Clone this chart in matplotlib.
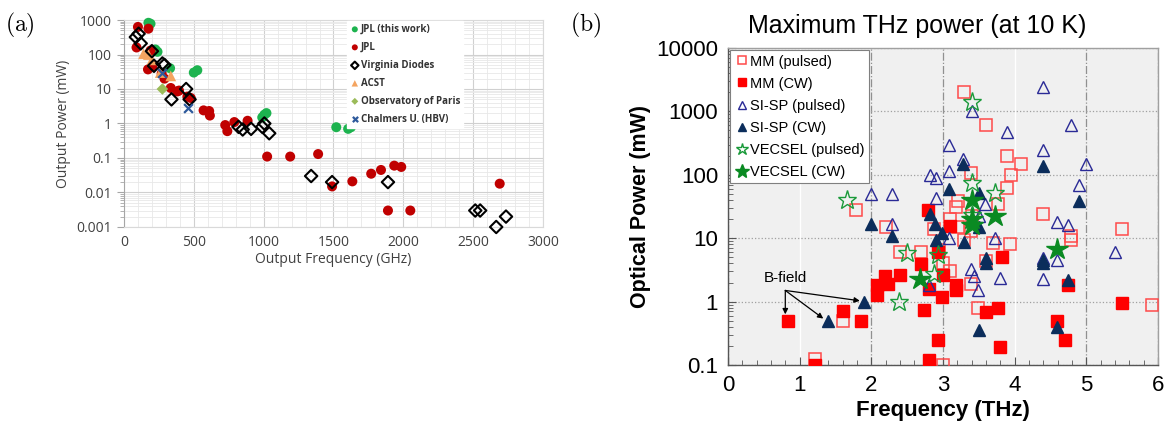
import matplotlib
matplotlib.use("Agg")
import matplotlib.pyplot as plt
from matplotlib.ticker import LogLocator, FixedLocator, NullFormatter, FuncFormatter

# ---------------- panel (a) data: output frequency (GHz) / power (mW)
jpl_this_f = [175, 190, 225, 240, 330, 500, 525, 990, 1005, 1020, 1520, 1605, 1625]
jpl_this_p = [830, 780, 140, 120, 40, 30, 35, 1.5, 1.8, 2.0, 0.78, 0.7, 0.78]

jpl_f = [100, 175, 90, 172, 203, 190, 335, 382, 394, 270, 290, 454, 478, 570, 610, 615,
         725, 740, 790, 885, 1025, 1190, 1390, 1490, 1635, 1770, 1840, 1935, 1985,
         1890, 2050, 2690]
jpl_p = [630, 560, 160, 37, 45, 130, 10.7, 8.5, 9, 28, 20, 6, 5.5, 2.4, 2.3, 1.7,
         0.9, 0.6, 1.1, 1.2, 0.11, 0.11, 0.13, 0.015, 0.021, 0.035, 0.045, 0.06, 0.055,
         0.003, 0.003, 0.018]

vdi_f = [85, 105, 120, 200, 215, 275, 290, 340, 445, 470, 820, 850, 910, 990, 1005, 1040,
         1340, 1490, 1890, 2515, 2550, 2665, 2735]
vdi_p = [320, 400, 210, 125, 47, 55, 50, 5, 10, 5, 0.8, 0.67, 0.7, 0.8, 1.0, 0.52,
         0.03, 0.02, 0.02, 0.003, 0.003, 0.001, 0.002]

acst_f = [140, 175, 200, 260, 335]
acst_p = [105, 100, 70, 30, 24]

paris_f = [275]
paris_p = [10]

chalmers_f = [275, 460]
chalmers_p = [30, 2.8]

# ---------------- panel (b) data: frequency (THz) / optical power (mW)
mm_pulsed_f = [1.21, 1.6, 1.79, 3.3, 3.6, 3.39, 3.21, 3.18, 3.77, 3.9, 4.09, 3.95, 3.9,
               4.39, 2.2, 2.88, 3.21, 3.1, 3.41, 3.39, 3.29, 3.7, 3.94, 2.4, 2.7, 2.95,
               3.0, 3.1, 3.39, 3.6, 3.49, 3.0, 4.79, 4.79, 5.5, 5.92]
mm_pulsed_p = [0.125, 0.5, 28, 2000, 600, 105, 38, 31, 35, 200, 148, 100, 63,
               24, 15, 14, 15, 20, 22, 13, 9.5, 8.3, 8, 6, 6, 6.5,
               4, 3, 1.9, 4.3, 0.78, 0.1, 11, 9.5, 14, 0.9]

mm_cw_f = [0.84, 1.21, 1.6, 1.86, 2.08, 2.08, 2.19, 2.24, 2.4, 2.79, 3.1, 2.7, 2.93,
           3.0, 2.8, 2.99, 3.18, 3.18, 2.73, 2.93, 2.8, 3.6, 3.77, 3.79, 3.82, 4.74,
           4.59, 4.7, 5.5]
mm_cw_p = [0.5, 0.1, 0.7, 0.5, 1.8, 1.25, 2.5, 1.9, 2.6, 28, 15.5, 3.9, 6,
           2.6, 1.6, 1.2, 1.8, 1.5, 0.74, 0.25, 0.12, 0.69, 0.78, 0.19, 5.1, 1.8,
           0.5, 0.25, 0.94]

sisp_pulsed_f = [3.4, 4.39, 3.09, 3.28, 2.82, 2.9, 3.09, 1.99, 2.29, 2.9, 3.59, 4.79, 3.9,
                 4.39, 4.99, 4.9, 4.59, 4.74, 2.29, 3.09, 3.5, 3.73, 2.8, 3.39, 3.43,
                 3.49, 3.79, 4.39, 4.59, 5.4, 4.39]
sisp_pulsed_p = [1000, 2400, 290, 180, 100, 90, 115, 50, 50, 43, 35, 600, 470,
                 245, 150, 70, 18, 16, 17, 10, 22, 10, 1.8, 3.3, 2.5,
                 1.5, 2.4, 2.3, 4.5, 6, 4.8]

sisp_cw_f = [1.39, 1.9, 1.99, 2.29, 2.82, 3.09, 3.28, 3.5, 4.39, 4.9, 2.89, 2.99, 2.9,
             3.29, 3.5, 3.6, 3.6, 3.5, 4.39, 4.39, 4.74, 4.59]
sisp_cw_p = [0.5, 1.0, 17, 11, 24, 60, 150, 52, 140, 39, 17, 12, 9.3,
             8.8, 15, 4.9, 4.0, 0.36, 4.5, 4.0, 2.2, 0.4]

vecsel_pulsed_f = [1.66, 3.4, 3.4, 3.4, 3.73, 2.5, 2.93, 2.87, 2.39]
vecsel_pulsed_p = [40, 1400, 75, 23, 51, 5.8, 5.4, 2.7, 1.0]

vecsel_cw_f = [3.4, 3.4, 3.4, 3.72, 4.59, 2.68]
vecsel_cw_p = [40, 20, 16, 22, 6.7, 2.3]

# B-field annotation: arrow start and the three marked devices
bfield_from = (0.8, 1.5)
bfield_to = [(0.8, 0.63), (1.33, 0.54), (1.84, 1.03)]

fig = plt.figure(figsize=(11.64, 4.23), dpi=100)
plt.rcParams['mathtext.fontset'] = 'cm'

# ======================= (a) =======================
axa = fig.add_axes([0.1065, 0.4634, 0.36, 0.4893])
fa = ['Open Sans', 'DejaVu Sans']
ms = 52
axa.scatter(jpl_this_f, jpl_this_p, s=ms, c='#1db34f', edgecolors='none', zorder=3,
            label='JPL (this work)', clip_on=False)
axa.scatter(jpl_f, jpl_p, s=ms, c='#c00000', edgecolors='none', zorder=3, label='JPL',
            clip_on=False)
axa.scatter(vdi_f, vdi_p, s=40, marker='D', facecolors='none', edgecolors='black',
            linewidths=1.5, zorder=4, label='Virginia Diodes', clip_on=False)
axa.scatter(acst_f, acst_p, s=60, marker='^', c='#f4a460', edgecolors='none', zorder=3,
            label='ACST')
axa.scatter(paris_f, paris_p, s=35, marker='D', c='#9bbb59', edgecolors='none', zorder=3,
            label='Observatory of Paris')
axa.scatter(chalmers_f, chalmers_p, s=40, marker='x', c='#2e5a9c', linewidths=1.6,
            zorder=5, label='Chalmers U. (HBV)')
axa.set_yscale('log')
axa.set_xlim(0, 3000)
axa.set_ylim(0.001, 1000)
axa.xaxis.set_major_locator(FixedLocator(range(0, 3001, 500)))
axa.xaxis.set_minor_locator(FixedLocator(range(0, 3001, 100)))
axa.yaxis.set_major_locator(LogLocator(base=10, numticks=10))
axa.yaxis.set_minor_locator(LogLocator(base=10, subs=range(2, 10), numticks=10))
axa.yaxis.set_minor_formatter(NullFormatter())
axa.yaxis.set_major_formatter(FuncFormatter(lambda v, p: '{:g}'.format(v)))
axa.grid(True, which='major', color='#d0d0d0', linewidth=0.8)
axa.grid(True, which='minor', color='#e8e8e8', linewidth=0.6)
axa.set_axisbelow(True)
for s in axa.spines.values():
    s.set_color('#d9d9d9')
axa.spines['left'].set_color('#a6a6a6')
axa.tick_params(axis='x', which='both', length=0, labelsize=10, colors='#404040', pad=6)
axa.tick_params(axis='y', which='major', length=5, labelsize=10, colors='#404040',
                direction='out', color='#a6a6a6')
axa.tick_params(axis='y', which='minor', length=3, direction='out', color='#a6a6a6')
for lab in axa.get_xticklabels() + axa.get_yticklabels():
    lab.set_family(fa)
axa.set_xlabel('Output Frequency (GHz)', fontsize=10, family=fa, color='#404040',
               labelpad=1)
axa.set_ylabel('Output Power (mW)', fontsize=10, family=fa, color='#404040', labelpad=4)
lga = axa.legend(loc='upper left', bbox_to_anchor=(0.53, 1.0),
                 prop={'family': fa, 'weight': 'bold', 'size': 7}, frameon=True,
                 fancybox=False, edgecolor='white', framealpha=1, handletextpad=0.1,
                 borderpad=0.3, labelspacing=0.72, markerscale=0.6, handlelength=1.0,
                 borderaxespad=0.1)
for t in lga.get_texts():
    t.set_color('#333333')
fig.text(0.004, 0.94, r'$\mathrm{(a)}$', fontsize=17, va='center')

# ======================= (b) =======================
axb = fig.add_axes([0.6254, 0.1371, 0.3694, 0.7494])
axb.set_facecolor('#f0f0f0')
red_open = '#ff4a4a'
tri_open = '#2a2a96'
tri_cw = '#0b2d5b'
axb.plot(mm_pulsed_f, mm_pulsed_p, 's', ms=9, mfc='none', mec=red_open, mew=1.1,
         ls='none', label='MM (pulsed)', zorder=3)
axb.plot(mm_cw_f, mm_cw_p, 's', ms=9, mfc='#ff0000', mec='#ff0000', ls='none',
         label='MM (CW)', zorder=3)
axb.plot(sisp_pulsed_f, sisp_pulsed_p, '^', ms=8, mfc='none', mec=tri_open, mew=1.0,
         ls='none', label='SI-SP (pulsed)', zorder=4)
axb.plot(sisp_cw_f, sisp_cw_p, '^', ms=8, mfc=tri_cw, mec=tri_cw, ls='none',
         label='SI-SP (CW)', zorder=4)
axb.plot(vecsel_pulsed_f, vecsel_pulsed_p, '*', ms=14, mfc='none', mec='#1a9a3a',
         mew=1.0, ls='none', label='VECSEL (pulsed)', zorder=5)
axb.plot(vecsel_cw_f, vecsel_cw_p, '*', ms=16, mfc='#0a8a22', mec='#0a8a22', ls='none',
         label='VECSEL (CW)', zorder=5)

axb.set_yscale('log')
axb.set_xlim(0, 6)
axb.set_ylim(0.1, 10000)
axb.xaxis.set_major_locator(FixedLocator(range(0, 7)))
axb.xaxis.set_minor_locator(FixedLocator([i * 0.2 for i in range(31)]))
axb.yaxis.set_major_locator(LogLocator(base=10, numticks=10))
axb.yaxis.set_minor_locator(LogLocator(base=10, subs=range(2, 10), numticks=10))
axb.yaxis.set_minor_formatter(NullFormatter())
axb.yaxis.set_major_formatter(FuncFormatter(lambda v, p: '{:g}'.format(v)))
axb.tick_params(which='both', direction='in', color='#555555')
axb.tick_params(which='major', length=6, labelsize=16, pad=7)
axb.tick_params(which='minor', length=3.5)
fb = ['Liberation Sans', 'DejaVu Sans']
for lab in axb.get_xticklabels() + axb.get_yticklabels():
    lab.set_family(fb)
axb.grid(True, which='major', axis='y', color='#a0a0a0', linestyle=':', linewidth=0.9)
axb.grid(True, which='major', axis='x', color='#909090', linestyle='-.', linewidth=0.9)
for i, gl in enumerate(axb.xaxis.get_gridlines()):
    if i in (1, 4):
        gl.set_color('white')
        gl.set_linestyle('-')
        gl.set_linewidth(1.0)
axb.set_axisbelow(True)
for s in axb.spines.values():
    s.set_color('#a0a0a0')
    s.set_linewidth(1.0)
axb.spines['bottom'].set_color('#555555')
axb.spines['left'].set_color('#555555')

axb.set_title('Maximum THz power (at 10 K)', fontsize=18, family=fb, pad=11, x=0.44)
axb.set_xlabel('Frequency (THz)', fontsize=16, fontweight='bold', family=fb, labelpad=3)
axb.set_ylabel('Optical Power (mW)', fontsize=15.5, fontweight='bold', family=fb,
               labelpad=4)

axb.text(bfield_from[0], bfield_from[1] * 1.55, 'B-field', fontsize=11, family=fb,
         ha='center', va='center')
for tgt in bfield_to:
    axb.annotate('', xy=tgt, xytext=bfield_from,
                 arrowprops=dict(arrowstyle='-|>', color='black', lw=0.9,
                                 mutation_scale=8, shrinkA=0, shrinkB=0))

lgb = axb.legend(loc='upper left', bbox_to_anchor=(0.0, 1.0), prop={'family': fb,
                 'size': 10.5}, frameon=True, fancybox=False, edgecolor='#808080',
                 framealpha=1, borderaxespad=0.15, handletextpad=0.05,
                 handlelength=1.0, markerscale=0.65, labelspacing=0.55,
                 borderpad=0.3)
lgb.get_frame().set_linewidth(0.8)
fig.text(0.49, 0.94, r'$\mathrm{(b)}$', fontsize=17, va='center')

fig.savefig('out.png', dpi=100)
